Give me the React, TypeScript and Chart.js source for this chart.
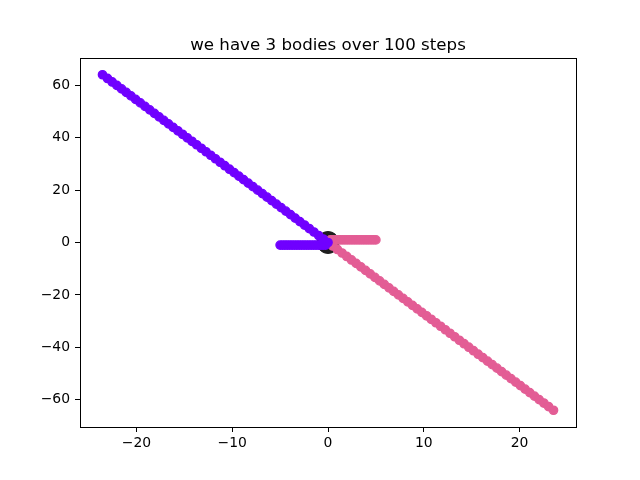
import React, { useEffect, useRef } from "react";
import { Chart, registerables } from "chart.js";

Chart.register(...registerables);

const TITLE = "we have 3 bodies over 100 steps";

const X_TICKS = [-20, -10, 0, 10, 20];
const Y_TICKS = [-60, -40, -20, 0, 20, 40, 60];
const X_MIN = -25.9;
const X_MAX = 25.9;
const Y_MIN = -70.4;
const Y_MAX = 70.4;

// Body 1 (purple)
const purpleX = [
  -5.0, -4.75, -4.5, -4.25, -4.0, -3.75, -3.5, -3.25, -3.0, -2.75, -2.5, -2.25, -2.0, -1.75, -1.5, -1.25, -1.0, -0.75, -0.5, -0.25,
  0.0,
  -0.49, -0.98, -1.47, -1.96, -2.45, -2.94, -3.43, -3.92, -4.41, -4.9, -5.39, -5.88, -6.37, -6.86, -7.35, -7.84, -8.33, -8.82,
  -9.31, -9.8, -10.29, -10.78, -11.27, -11.76, -12.25, -12.74, -13.23, -13.72, -14.21, -14.7, -15.19, -15.68, -16.17, -16.66,
  -17.15, -17.64, -18.13, -18.62, -19.11, -19.6, -20.09, -20.58, -21.07, -21.56, -22.05, -22.54, -23.03, -23.55,
];
const purpleY = [
  -1, -1, -1, -1, -1, -1, -1, -1, -1, -1, -1, -1, -1, -1, -1, -1, -1, -1, -1, -1,
  0.0,
  1.33, 2.66, 4.0, 5.33, 6.66, 7.99, 9.32, 10.65, 11.99, 13.32, 14.65, 15.98, 17.31, 18.65, 19.98, 21.31, 22.64, 23.97,
  25.3, 26.64, 27.97, 29.3, 30.63, 31.96, 33.3, 34.63, 35.96, 37.29, 38.62, 39.95, 41.29, 42.62, 43.95, 45.28,
  46.61, 47.94, 49.28, 50.61, 51.94, 53.27, 54.6, 55.94, 57.27, 58.6, 59.93, 61.26, 62.59, 64.0,
];

// Body 2 (pink)
const pinkX = [
  5.0, 4.75, 4.5, 4.25, 4.0, 3.75, 3.5, 3.25, 3.0, 2.75, 2.5, 2.25, 2.0, 1.75, 1.5, 1.25, 1.0, 0.75, 0.5, 0.25,
  0.0,
  0.49, 0.98, 1.47, 1.96, 2.45, 2.94, 3.43, 3.92, 4.41, 4.9, 5.39, 5.88, 6.37, 6.86, 7.35, 7.84, 8.33, 8.82,
  9.31, 9.8, 10.29, 10.78, 11.27, 11.76, 12.25, 12.74, 13.23, 13.72, 14.21, 14.7, 15.19, 15.68, 16.17, 16.66,
  17.15, 17.64, 18.13, 18.62, 19.11, 19.6, 20.09, 20.58, 21.07, 21.56, 22.05, 22.54, 23.03, 23.55,
];
const pinkY = [
  1, 1, 1, 1, 1, 1, 1, 1, 1, 1, 1, 1, 1, 1, 1, 1, 1, 1, 1, 1,
  0.0,
  -1.33, -2.66, -4.0, -5.33, -6.66, -7.99, -9.32, -10.65, -11.99, -13.32, -14.65, -15.98, -17.31, -18.65, -19.98, -21.31, -22.64, -23.97,
  -25.3, -26.64, -27.97, -29.3, -30.63, -31.96, -33.3, -34.63, -35.96, -37.29, -38.62, -39.95, -41.29, -42.62, -43.95, -45.28,
  -46.61, -47.94, -49.28, -50.61, -51.94, -53.27, -54.6, -55.94, -57.27, -58.6, -59.93, -61.26, -62.59, -64.0,
];

// Body 3 (black, heavy, stays at origin)
const blackX = [0.0];
const blackY = [0.0];

const PURPLE = "#7000ff";
const PINK = "#e35d95";
const BLACK = "#1e1e1e";

const zip = (xs: number[], ys: number[]) => xs.map((x, i) => ({ x, y: ys[i] }));
const fmt = (v: number) => (v < 0 ? "\u2212" + Math.abs(v) : String(v));

const framePlugin = {
  id: "frame",
  afterDatasetsDraw(chart: any) {
    const { ctx, chartArea } = chart;
    ctx.save();
    ctx.strokeStyle = "#000";
    ctx.lineWidth = 1;
    ctx.strokeRect(chartArea.left + 0.5, chartArea.top + 0.5, chartArea.right - chartArea.left, chartArea.bottom - chartArea.top);
    ctx.restore();
  },
  afterDraw(chart: any) {
    const { ctx, chartArea } = chart;
    ctx.save();
    ctx.fillStyle = "#000";
    ctx.font = "16.67px 'DejaVu Sans', sans-serif";
    ctx.textAlign = "center";
    ctx.textBaseline = "alphabetic";
    ctx.fillText(TITLE, (chartArea.left + chartArea.right) / 2, chartArea.top - 8);
    ctx.restore();
  },
};

export default function App() {
  const ref = useRef<HTMLCanvasElement | null>(null);
  useEffect(() => {
    if (!ref.current) return;
    const font = { family: "'DejaVu Sans', sans-serif", size: 13.9 };
    const chart = new Chart(ref.current, {
      type: "scatter",
      data: {
        datasets: [
          {
            data: zip(purpleX, purpleY),
            backgroundColor: PURPLE,
            borderColor: PURPLE,
            borderWidth: 1.3,
            pointRadius: 4.2,
          },
          {
            data: zip(pinkX, pinkY),
            backgroundColor: PINK,
            borderColor: PINK,
            borderWidth: 1.3,
            pointRadius: 4.2,
          },
          {
            data: zip(blackX, blackY),
            backgroundColor: BLACK,
            borderColor: BLACK,
            borderWidth: 1,
            pointRadius: 11,
          },
        ],
      },
      options: {
        responsive: false,
        animation: false,
        devicePixelRatio: 1,
        layout: { padding: { left: 0, right: 64, top: 58, bottom: 0 } },
        plugins: {
          legend: { display: false },
          tooltip: { enabled: false },
          title: { display: false },
        },
        scales: {
          x: {
            type: "linear",
            min: X_MIN,
            max: X_MAX,
            afterBuildTicks: (s: any) => {
              s.ticks = X_TICKS.map((v) => ({ value: v }));
            },
            afterFit: (s: any) => {
              s.height = 53;
            },
            grid: { drawOnChartArea: false, drawTicks: true, tickLength: 5, tickColor: "#000", tickWidth: 1 },
            border: { display: true, color: "#000", width: 1 },
            ticks: { color: "#000", font, padding: 3, maxRotation: 0, callback: (v: any) => fmt(Number(v)) },
          },
          y: {
            type: "linear",
            min: Y_MIN,
            max: Y_MAX,
            afterBuildTicks: (s: any) => {
              s.ticks = Y_TICKS.map((v) => ({ value: v }));
            },
            afterFit: (s: any) => {
              s.width = 80;
            },
            grid: { drawOnChartArea: false, drawTicks: true, tickLength: 5, tickColor: "#000", tickWidth: 1 },
            border: { display: true, color: "#000", width: 1 },
            ticks: { color: "#000", font, padding: 5, callback: (v: any) => fmt(Number(v)) },
          },
        },
      },
      plugins: [framePlugin],
    } as any);
    return () => chart.destroy();
  }, []);
  return (
    <div style={{ position: "fixed", left: 0, top: 0, width: 640, height: 480, background: "#fff" }}>
      <canvas ref={ref} width={640} height={480} />
    </div>
  );
}
